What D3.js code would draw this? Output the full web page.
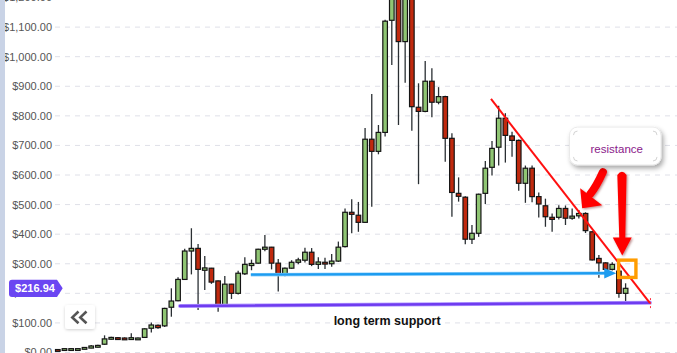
<!DOCTYPE html>
<html><head><meta charset="utf-8">
<script src="https://cdn.jsdelivr.net/npm/d3@7"></script>
<style>html,body{margin:0;padding:0;background:#fff;overflow:hidden}svg{display:block;font-family:"Liberation Sans",Arial,sans-serif}</style>
</head><body><svg id="c" width="677" height="353"></svg>
<script>
// ---- data (weekly candles) ----
const opens = [10,8,9,10,12,15,18,28,45,50, 49,45,45,51,82,92,90,153,175,247,
  343,352,278,285,242,158,231,200,266,294, 302,349,356,302,265,285,305,312,339,298,
  305,300,309,358,474,464,440,721,680,744, 1123,1220,1051,1230,829,815,917,846,865,724,
  538,525,383,403,538,626,694,792,732,717, 572,623,527,496,457,457,487,454,462,470,
  408,318,303,281,275,200];
const closes = [6,13,13,13,17,22,24,46,51,45, 45,50,49,80,93,84,149,174,247,343,
  352,281,286,238,158,231,200,268,298,301, 349,356,302,264,285,305,313,339,298,306,
  299,309,356,474,467,440,721,680,744,1120, 1215,1051,1210,831,815,917,846,865,724,541,
  528,383,403,535,623,690,792,734,717,572, 623,527,502,459,450,487,454,461,470,412,
  313,303,281,298,200,216.94];
const highs = [12,14,14,14,18,25,26,58,53,52, 51,65,51,82,101,95,151,217,254,351,
  420,367,326,286,243,259,232,276,322,314, 351,397,357,316,287,312,320,354,353,322,
  320,333,375,487,518,509,759,874,769,1125, 1240,1240,1230,1240,910,985,961,897,868,741,
  592,528,431,537,647,715,834,809,746,720, 632,632,541,520,470,498,497,487,482,474,
  410,330,305,305,290,234];
const lows = [5,7,8,9,11,14,17,26,44,44, 44,44,44,50,68,80,86,121,173,245,
  264,144,211,232,138,155,181,196,262,278, 300,342,281,206,258,283,298,304,292,282,
  282,290,306,355,403,408,438,493,670,730, 972,769,912,750,569,812,795,839,645,459,
  510,366,367,391,502,598,632,642,662,547, 506,508,456,425,408,450,431,449,453,404,
  311,253,273,277,185,172];
const tickValues = [0,100,200,300,400,500,600,700,800,900,1000,1100,1200];
const lastPrice = 216.94;
// annotations in (candle index, price) space
const trendLine = [[64.85, 857], [88.65, 167]];
const supportShort = [[28.9, 263], [83.6, 268]];
const supportLong = [[18.3, 157], [88.65, 168]];
const boxCorners = [[83.7, 318], [86.8, 248]];
const arrowDiag = {tail: [81.6, 610], tip: [78.5, 488]};
const arrowVert = {tail: [84.45, 610], tip: [84.5, 328]};
const callout = {x0: 76.6, x1: 90.3, top: 762, bottom: 634, text: "resistance"};
const supportLabel = {i: 49.3, v: 92, text: "long term support"};

const W = 677, H = 353;
const svg = d3.select("#c");
const x = d3.scaleLinear().domain([0, 85]).range([57.8, 625.6]);
const y = d3.scaleLinear().domain([0, 1100]).range([352.5, 27.1]);

const defs = svg.append("defs");
const f1 = defs.append("filter").attr("id","sh").attr("x","-30%").attr("y","-30%").attr("width","160%").attr("height","180%");
f1.append("feDropShadow").attr("dx",2).attr("dy",3).attr("stdDeviation",2.5).attr("flood-color","#000").attr("flood-opacity",0.35);
const f2 = defs.append("filter").attr("id","ash").attr("x","-50%").attr("y","-20%").attr("width","200%").attr("height","140%");
f2.append("feDropShadow").attr("dx",1.2).attr("dy",1.2).attr("stdDeviation",1).attr("flood-color","#600").attr("flood-opacity",0.45);
const f3 = defs.append("filter").attr("id","bsh").attr("x","-30%").attr("y","-30%").attr("width","160%").attr("height","180%");
f3.append("feDropShadow").attr("dx",0).attr("dy",1).attr("stdDeviation",1.5).attr("flood-color","#000").attr("flood-opacity",0.18);

// grid
const grid = svg.append("g");
grid.selectAll("line").data(tickValues).join("line")
  .attr("x1", 55).attr("x2", W).attr("y1", d => y(d)).attr("y2", d => y(d))
  .attr("stroke", "#dfe0e8").attr("stroke-width", 1).attr("stroke-dasharray", "5,5");
// y labels
const fmt = d3.format("$,.2f");
svg.append("g").selectAll("text").data(tickValues).join("text")
  .attr("x", 52).attr("y", d => y(d)).attr("dy", "0.36em")
  .attr("text-anchor", "end").attr("font-size", 11).attr("fill", "#555")
  .text(d => fmt(d));

// candles
const idx = d3.range(opens.length);
const bw = 4.6;
const cg = svg.append("g");
cg.selectAll("line").data(idx).join("line")
  .attr("x1", i => x(i)).attr("x2", i => x(i))
  .attr("y1", i => y(highs[i])).attr("y2", i => y(lows[i]))
  .attr("stroke", "#2a2f33").attr("stroke-width", 1.3);
cg.selectAll("rect").data(idx).join("rect")
  .attr("x", i => x(i) - bw/2).attr("width", bw)
  .attr("y", i => y(Math.max(opens[i], closes[i])))
  .attr("height", i => Math.max(1.8, Math.abs(y(opens[i]) - y(closes[i]))))
  .attr("fill", i => closes[i] >= opens[i] ? "#8fc573" : "#c0290e")
  .attr("stroke", "#151515").attr("stroke-width", 1.2);

// long term support (purple)
svg.append("line")
  .attr("x1", x(supportLong[0][0])).attr("y1", y(supportLong[0][1]))
  .attr("x2", x(supportLong[1][0])).attr("y2", y(supportLong[1][1]))
  .attr("stroke", "#b49cff").attr("stroke-width", 4).attr("stroke-linecap","round");
svg.append("line")
  .attr("x1", x(supportLong[0][0])).attr("y1", y(supportLong[0][1]))
  .attr("x2", x(supportLong[1][0])).attr("y2", y(supportLong[1][1]))
  .attr("stroke", "#6f3cf0").attr("stroke-width", 2.4).attr("stroke-linecap","round");

// short support (blue arrow)
const bx0 = x(supportShort[0][0]), by0 = y(supportShort[0][1]);
const bx1 = x(supportShort[1][0]), by1 = y(supportShort[1][1]);
svg.append("line").attr("x1", bx0).attr("y1", by0).attr("x2", bx1 - 10).attr("y2", by1)
  .attr("stroke", "#8fd0fb").attr("stroke-width", 3.6);
svg.append("line").attr("x1", bx0).attr("y1", by0).attr("x2", bx1 - 10).attr("y2", by1)
  .attr("stroke", "#1d9cf0").attr("stroke-width", 2.2);
svg.append("path").attr("d", `M${bx1},${by1} L${bx1-12},${by1-5.3} L${bx1-12},${by1+5.3} Z`).attr("fill", "#1d9cf0");

// red trend line
const tx0 = x(trendLine[0][0]), ty0 = y(trendLine[0][1]);
const tx1 = x(trendLine[1][0]), ty1 = y(trendLine[1][1]);
svg.append("line").attr("x1", tx0).attr("y1", ty0).attr("x2", tx1).attr("y2", ty1)
  .attr("stroke", "#ff1010").attr("stroke-width", 2);
svg.append("line").attr("x1", tx1 + 0.5).attr("y1", ty1 - 5).attr("x2", tx1 + 0.5).attr("y2", ty1 + 7)
  .attr("stroke", "#ff3040").attr("stroke-width", 1).attr("stroke-dasharray", "2,2");

// orange box
const ox0 = x(boxCorners[0][0]), oy0 = y(boxCorners[0][1]);
const ox1 = x(boxCorners[1][0]), oy1 = y(boxCorners[1][1]);
svg.append("rect").attr("x", ox0 + 1.7).attr("y", oy0 + 1.7)
  .attr("width", ox1 - ox0 - 3.4).attr("height", oy1 - oy0 - 3.4)
  .attr("fill", "none").attr("stroke", "#ff9c00").attr("stroke-width", 3.4);

// red arrows
const ag = svg.append("g").attr("filter", "url(#ash)");
// vertical arrow
{
  const ax = x(arrowVert.tail[0]), ay = y(arrowVert.tail[1]);
  const px = x(arrowVert.tip[0]), py = y(arrowVert.tip[1]);
  const hb = py - 18;
  ag.append("path").attr("d",
    `M${ax-4.6},${ay+3} Q${ax},${ay-3.5} ${ax+4.6},${ay+3} L${px+3},${hb} L${px+9.5},${hb} L${px},${py} L${px-9.5},${hb} L${px-3},${hb} Z`)
    .attr("fill", "#ff0000");
}
// diagonal arrow
{
  const ax = x(arrowDiag.tail[0]), ay = y(arrowDiag.tail[1]);
  const px = x(arrowDiag.tip[0]), py = y(arrowDiag.tip[1]);
  const mx = (ax + px) / 2 + 2, my = (ay + py) / 2;
  ag.append("path").attr("d", `M${ax},${ay} Q${mx+2},${my-4} ${px+8},${py-14}`)
    .attr("fill", "none").attr("stroke", "#ff0000").attr("stroke-width", 8).attr("stroke-linecap", "round");
  ag.append("path").attr("d", `M${px},${py} L${px-2},${py-20} L${px+20},${py-3} Z`).attr("fill", "#ff0000");
}

// callout
{
  const cx0 = x(callout.x0), cx1 = x(callout.x1), cy0 = y(callout.top), cy1 = y(callout.bottom);
  svg.append("rect").attr("x", cx0).attr("y", cy0).attr("width", cx1 - cx0).attr("height", cy1 - cy0)
    .attr("rx", 8).attr("fill", "#fff").attr("stroke", "#e6e6e6").attr("stroke-width", 0.8).attr("filter", "url(#sh)");
  const corners = [
    `M${cx0+4},${cy0+8} A4,4 0 0 1 ${cx0+8},${cy0+4}`,
    `M${cx1-8},${cy0+4} A4,4 0 0 1 ${cx1-4},${cy0+8}`,
    `M${cx0+4},${cy1-8} A4,4 0 0 0 ${cx0+8},${cy1-4}`,
    `M${cx1-8},${cy1-4} A4,4 0 0 0 ${cx1-4},${cy1-8}`];
  svg.append("g").selectAll("path").data(corners).join("path").attr("d", d => d)
    .attr("fill", "none").attr("stroke", "#c8c8c8").attr("stroke-width", 0.8);
  svg.append("text").attr("x", (cx0 + cx1) / 2 + 1.5).attr("y", cy1 - 12)
    .attr("text-anchor", "middle").attr("font-size", 11.5).attr("fill", "#8a1a8a").text(callout.text);
}

// long term support label
svg.append("text").attr("x", x(supportLabel.i)).attr("y", y(supportLabel.v))
  .attr("text-anchor", "middle").attr("font-size", 12.5).attr("font-weight", "bold").attr("fill", "#111")
  .text(supportLabel.text);

// left side band
svg.append("rect").attr("x", 0).attr("y", 0).attr("width", 5).attr("height", H).attr("fill", "#c9d3e6");

// last price tag
{
  const ly = y(lastPrice);
  svg.append("path").attr("d",
    `M12,${ly-8.7} L57,${ly-8.7} L62.7,${ly} L57,${ly+8.7} L12,${ly+8.7} Q9,${ly+8.7} 9,${ly+5.7} L9,${ly-5.7} Q9,${ly-8.7} 12,${ly-8.7} Z`)
    .attr("fill", "#6b46f2");
  svg.append("text").attr("x", 35).attr("y", ly).attr("dy", "0.36em").attr("text-anchor", "middle")
    .attr("font-size", 11).attr("font-weight", "bold").attr("fill", "#fff").text(d3.format("$.2f")(lastPrice));
}

// scroll button
svg.append("rect").attr("x", 65).attr("y", 305).attr("width", 30).attr("height", 24).attr("rx", 3)
  .attr("fill", "#fff").attr("filter", "url(#bsh)");
svg.append("path").attr("d", "M78.5,311.5 L72.3,317.4 L78.5,323.3 M86.5,311.5 L80.3,317.4 L86.5,323.3")
  .attr("fill", "none").attr("stroke", "#555").attr("stroke-width", 2.6);
</script></body></html>
